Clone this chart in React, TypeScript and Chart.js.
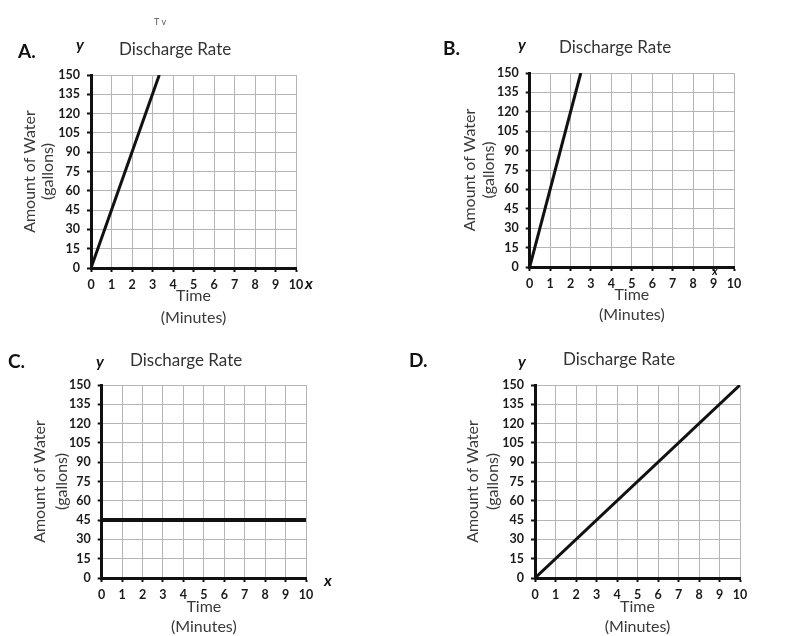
import React, { useEffect, useRef } from "react";
import { Chart, registerables } from "chart.js";
Chart.register(...registerables);

// ---- data ----
const timeTicks = [0, 1, 2, 3, 4, 5, 6, 7, 8, 9, 10];
const waterTicks = [0, 15, 30, 45, 60, 75, 90, 105, 120, 135, 150];
const panelLabels = ["A.", "B.", "C.", "D."];
const chartTitle = "Discharge Rate";
const yAxisTitle = ["Amount of Water", "(gallons)"];
const xAxisTitle = ["Time", "(Minutes)"];
const timeA = [0, 3.33];
const waterA = [0, 150];
const timeB = [0, 2.5];
const waterB = [0, 150];
const timeC = [0, 10];
const waterC = [45, 45];
const timeD = [0, 10];
const waterD = [0, 150];

const FONT = "Lato, 'Open Sans', sans-serif";
const CW = 400;

type Layout = {
  ox: number; oy: number; ch: number;
  left: number; right: number; top: number; bottom: number;
  yTitleX: number; yLH: number;
  xT1: number; xT2: number;
  letter: [number, number];
  yMark: [number, number];
  title: [number, number];
  xMark: [number, number, number] | null;
  lineWidth: number;
  extra?: (ctx: CanvasRenderingContext2D) => void;
};

// bottom row canvases start at page y = 330
const layouts: Layout[] = [
  {
    ox: 0, oy: 0, ch: 330, left: 91, right: 296, top: 75, bottom: 268,
    yTitleX: 29.5, yLH: 18.5, xT1: 296, xT2: 318,
    letter: [18, 52], yMark: [80, 45], title: [119, 50], xMark: [309, 284, 16], lineWidth: 3,
    extra: (ctx) => {
      ctx.font = `9px ${FONT}`;
      ctx.fillStyle = "#555";
      ctx.textAlign = "left";
      ctx.fillText("T v", 154, 22);
    },
  },
  {
    ox: 400, oy: 0, ch: 330, left: 129.7, right: 334, top: 73, bottom: 267,
    yTitleX: 70, yLH: 19, xT1: 295, xT2: 315,
    letter: [43, 49], yMark: [122, 45], title: [159, 48], xMark: [315, 271, 11], lineWidth: 3,
  },
  {
    ox: 0, oy: 330, ch: 306, left: 101.7, right: 306, top: 55, bottom: 248,
    yTitleX: 40, yLH: 21.7, xT1: 277, xT2: 297,
    letter: [8, 32], yMark: [100, 32], title: [130, 31], xMark: [328, 251, 16], lineWidth: 4,
  },
  {
    ox: 400, oy: 330, ch: 306, left: 135, right: 340, top: 55, bottom: 248,
    yTitleX: 73.3, yLH: 20, xT1: 277, xT2: 297,
    letter: [9, 31], yMark: [122, 32], title: [163, 30], xMark: null, lineWidth: 3,
  },
];

const series = [
  { t: timeA, w: waterA },
  { t: timeB, w: waterB },
  { t: timeC, w: waterC },
  { t: timeD, w: waterD },
];

function makeChart(canvas: HTMLCanvasElement, idx: number) {
  const L = layouts[idx];
  const s = series[idx];
  const CH = L.ch;
  const grid = (ctx: any) => (ctx.tick && ctx.tick.value === 0 ? "rgba(0,0,0,0)" : "#b5b5b5");
  const xLH = L.xT2 - L.xT1;
  const textPlugin = {
    id: "panelText" + idx,
    afterDraw(chart: any) {
      const ctx: CanvasRenderingContext2D = chart.ctx;
      ctx.save();
      ctx.textBaseline = "middle";
      ctx.fillStyle = "#111";
      ctx.textAlign = "left";
      ctx.font = `bold 19px ${FONT}`;
      ctx.fillText(panelLabels[idx], L.letter[0], L.letter[1]);
      ctx.textAlign = "center";
      ctx.font = `italic bold 16px ${FONT}`;
      ctx.fillText("y", L.yMark[0], L.yMark[1]);
      if (L.xMark) {
        ctx.font = `italic bold ${L.xMark[2]}px ${FONT}`;
        ctx.fillText("x", L.xMark[0], L.xMark[1]);
      }
      ctx.textAlign = "left";
      ctx.fillStyle = "#333";
      ctx.font = `17px ${FONT}`;
      ctx.fillText(chartTitle, L.title[0], L.title[1]);
      if (L.extra) L.extra(ctx);
      ctx.restore();
    },
  };
  return new Chart(canvas, {
    type: "line",
    data: {
      datasets: [
        {
          data: s.t.map((t, i) => ({ x: t, y: s.w[i] })),
          borderColor: "#111",
          borderWidth: L.lineWidth,
          pointRadius: 0,
          fill: false,
          tension: 0,
        },
      ],
    },
    options: {
      responsive: false,
      animation: false,
      devicePixelRatio: 1,
      layout: {
        autoPadding: false,
        padding: { left: 0, top: L.top, right: CW - L.right, bottom: 0 },
      },
      plugins: { legend: { display: false }, tooltip: { enabled: false }, title: { display: false } },
      scales: {
        x: {
          type: "linear",
          min: 0,
          max: 10,
          afterBuildTicks: (sc: any) => {
            sc.ticks = timeTicks.map((v) => ({ value: v }));
          },
          afterFit: (sc: any) => {
            sc.height = CH - L.bottom;
            sc.paddingLeft = 0; sc.paddingRight = 0; sc.paddingTop = 0; sc.paddingBottom = 0;
          },
          grid: { color: grid, lineWidth: 1, tickColor: "#111", tickLength: 4, tickWidth: 2 },
          border: { color: "#111", width: 3 },
          ticks: {
            autoSkip: false,
            maxRotation: 0,
            padding: 5,
            color: "#1a1a1a",
            font: { family: FONT, size: 12.5, weight: "bold" },
          },
          title: {
            display: true,
            text: xAxisTitle,
            color: "#3a3a3a",
            font: { family: FONT, size: 16, lineHeight: `${xLH}px` },
            padding: { top: 0, bottom: CH - L.xT2 - xLH / 2 },
          },
        },
        y: {
          type: "linear",
          min: 0,
          max: 150,
          afterBuildTicks: (sc: any) => {
            sc.ticks = waterTicks.map((v) => ({ value: v }));
          },
          afterFit: (sc: any) => {
            sc.width = L.left;
            sc.paddingLeft = 0; sc.paddingRight = 0; sc.paddingTop = 0; sc.paddingBottom = 0;
          },
          grid: { color: grid, lineWidth: 1, tickColor: "#111", tickLength: 4, tickWidth: 2 },
          border: { color: "#111", width: 3 },
          ticks: {
            autoSkip: false,
            padding: 7,
            color: "#1a1a1a",
            font: { family: FONT, size: 12.5, weight: "bold" },
          },
          title: {
            display: true,
            text: yAxisTitle,
            color: "#3a3a3a",
            font: { family: FONT, size: 16, lineHeight: `${L.yLH}px` },
            padding: { top: L.yTitleX - L.yLH / 2, bottom: 0 },
          },
        },
      },
    } as any,
    plugins: [textPlugin],
  });
}

export default function App() {
  const r0 = useRef<HTMLCanvasElement>(null);
  const r1 = useRef<HTMLCanvasElement>(null);
  const r2 = useRef<HTMLCanvasElement>(null);
  const r3 = useRef<HTMLCanvasElement>(null);
  const refs = [r0, r1, r2, r3];
  useEffect(() => {
    const charts = refs.map((r, i) => makeChart(r.current as HTMLCanvasElement, i));
    return () => charts.forEach((c) => c.destroy());
  }, []);
  return (
    <div style={{ position: "absolute", left: 0, top: 0, width: 800, height: 636, background: "#fff" }}>
      {layouts.map((L, i) => (
        <canvas
          key={i}
          ref={refs[i]}
          width={CW}
          height={L.ch}
          style={{ position: "absolute", left: L.ox, top: L.oy, width: CW, height: L.ch }}
        />
      ))}
    </div>
  );
}
